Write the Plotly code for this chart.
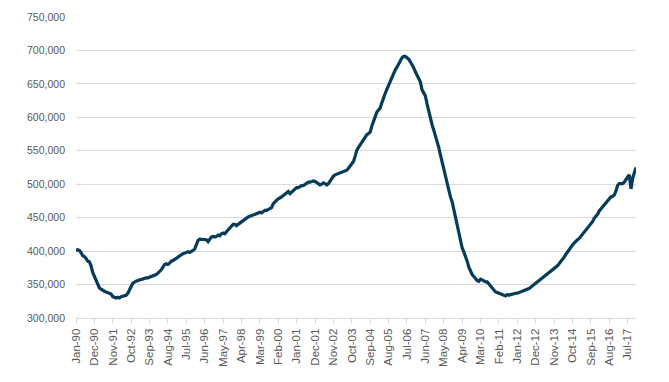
import plotly.graph_objects as go

# Monthly values (thousands), Jan-1990 .. Dec-2017
y1990 = [401, 402, 401, 398, 393, 392, 389, 385, 384, 378, 368, 362]
y1991 = [354, 349, 345, 343, 341, 340, 339, 338, 338, 336, 332, 331]
y1992 = [330, 331, 330, 332, 333, 333, 334, 337, 341, 347, 352, 354]
y1993 = [355, 356, 357, 358, 358, 359, 360, 360, 361, 362, 363, 363]
y1994 = [365, 367, 369, 372, 376, 380, 381, 380, 382, 385, 386, 387]
y1995 = [389, 391, 393, 395, 396, 397, 398, 399, 398, 399, 401, 403]
y1996 = [410, 416, 418, 418, 417, 418, 417, 414, 417, 421, 422, 421]
y1997 = [422, 424, 423, 426, 427, 426, 429, 432, 434, 437, 440, 440]
y1998 = [438, 440, 442, 443, 446, 448, 450, 451, 452, 453, 454, 455]
y1999 = [456, 457, 458, 457, 459, 461, 461, 462, 463, 465, 471, 474]
y2000 = [476, 478, 479, 481, 483, 485, 487, 489, 486, 488, 491, 493]
y2001 = [495, 495, 497, 498, 498, 500, 502, 503, 503, 504, 505, 504]
y2002 = [502, 501, 499, 500, 502, 501, 499, 501, 505, 510, 512, 514]
y2003 = [515, 516, 516, 517, 518, 519, 521, 524, 527, 530, 534, 542]
y2004 = [551, 555, 559, 562, 566, 570, 574, 576, 578, 587, 596, 601]
y2005 = [608, 611, 614, 622, 630, 636, 642, 648, 654, 660, 667, 671]
y2006 = [675, 680, 686, 689, 691, 691, 689, 687, 683, 679, 674, 668]
y2007 = [662, 658, 653, 641, 636, 632, 620, 608, 598, 589, 581, 573]
y2008 = [565, 555, 544, 533, 523, 512, 501, 489, 481, 474, 462, 449]
y2009 = [437, 425, 413, 405, 399, 393, 385, 376, 370, 365, 362, 359]
y2010 = [356, 355, 358, 357, 355, 354, 354, 351, 347, 344, 341, 339]
y2011 = [338, 337, 337, 335, 334, 333, 335, 334, 335, 336, 336, 337]
y2012 = [337, 338, 338, 339, 340, 341, 342, 344, 346, 348, 350, 352]
y2013 = [353, 355, 357, 359, 361, 363, 365, 367, 369, 372, 374, 376]
y2014 = [378, 381, 384, 388, 391, 395, 399, 403, 406, 409, 412, 415]
y2015 = [417, 419, 422, 425, 428, 432, 435, 438, 441, 444, 449, 452]
y2016 = [455, 460, 463, 466, 469, 473, 476, 478, 481, 482, 484, 490]
y2017 = [498, 501, 501, 501, 503, 508, 511, 514, 493, 509, 516, 525]

years = list(range(1990, 2018))
months = ["Jan", "Feb", "Mar", "Apr", "May", "Jun", "Jul", "Aug", "Sep", "Oct", "Nov", "Dec"]

series_k = (y1990 + y1991 + y1992 + y1993 + y1994 + y1995 + y1996 + y1997 + y1998 + y1999 +
            y2000 + y2001 + y2002 + y2003 + y2004 + y2005 + y2006 + y2007 + y2008 + y2009 +
            y2010 + y2011 + y2012 + y2013 + y2014 + y2015 + y2016 + y2017)
values = [v * 1000 for v in series_k]
labels = [f"{m}-{str(y)[2:]}" for y in years for m in months]
xs = list(range(len(values)))

tick_idx = list(range(0, len(values), 11))
tick_text = [labels[i] for i in tick_idx]
y_ticks = list(range(300000, 750001, 50000))

fig = go.Figure()
fig.add_trace(go.Scatter(
    x=xs, y=values, mode="lines",
    line=dict(color="#073b5a", width=3.2, shape="linear"),
    hoverinfo="skip", showlegend=False,
))

# page keeps the browser's default 8px body margin, so the figure is 8px smaller
fig.update_layout(
    width=661, height=374,
    margin=dict(l=68, r=33, t=3, b=64, pad=0),
    paper_bgcolor="white", plot_bgcolor="white",
    font=dict(family="Liberation Sans, Arial, sans-serif", color="#595959"),
)
fig.update_xaxes(
    range=[0, len(values) - 1],
    tickmode="array", tickvals=tick_idx, ticktext=tick_text,
    tickangle=-90, tickfont=dict(size=11.5, color="#595959"),
    showgrid=False, zeroline=False,
    showline=True, linecolor="#d9d9d9", linewidth=1,
    ticks="outside", ticklen=5, tickcolor="#d9d9d9", tickwidth=1,
)
fig.update_yaxes(
    range=[300000, 751470],
    tickmode="array", tickvals=y_ticks,
    tickformat=",", tickfont=dict(size=10.5, color="#595959"),
    showgrid=True, gridcolor="#d9d9d9", gridwidth=1,
    zeroline=False, showline=False, ticks="",
    ticklabelstandoff=10, ticklabeloverflow="allow",
)

fig.write_html("out.html", config={"displayModeBar": False})
